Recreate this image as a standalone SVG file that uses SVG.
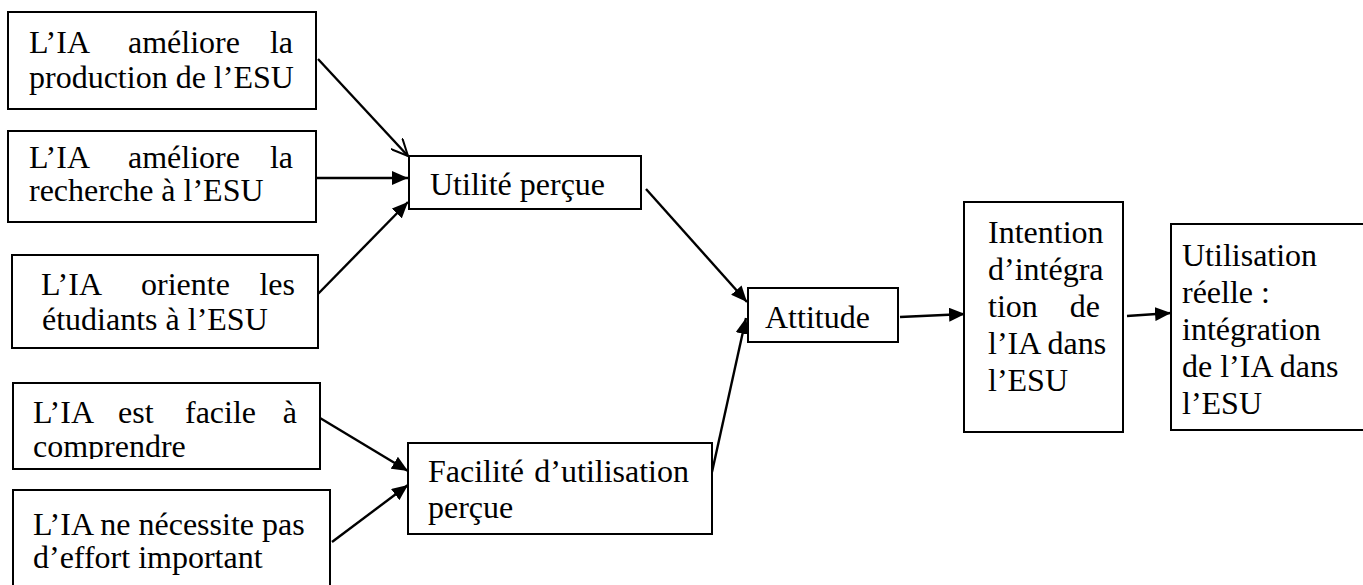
<svg xmlns="http://www.w3.org/2000/svg" width="1363" height="585" viewBox="0 0 1363 585">
<style>
.box{fill:#fff;stroke:#000;stroke-width:2}
text{font-family:"Liberation Serif","Times New Roman",serif;font-size:32px;fill:#000}
.e{text-anchor:end}
.c{fill:none;stroke:#000;stroke-width:2.4}
</style>
<defs>
<marker id="ah" viewBox="0 0 16 14" refX="16" refY="7" markerWidth="16" markerHeight="14" markerUnits="userSpaceOnUse" orient="auto">
<path d="M0,0 L16,7 L0,14 Z" fill="#000"/>
</marker>
<marker id="ao" viewBox="0 0 18 16" refX="17" refY="8" markerWidth="18" markerHeight="16" markerUnits="userSpaceOnUse" orient="auto">
<path d="M0,0 L17,8 L0,16" fill="none" stroke="#000" stroke-width="2"/>
</marker>
<clipPath id="clip4"><rect x="13" y="383" width="307" height="76"/></clipPath>
</defs>

<g id="connectors">
<line class="c" x1="318" y1="59" x2="408" y2="156" marker-end="url(#ao)"/>
<line class="c" x1="316" y1="178" x2="408" y2="178" marker-end="url(#ah)"/>
<line class="c" x1="315" y1="297" x2="408" y2="202" marker-end="url(#ah)"/>
<line class="c" x1="320" y1="418" x2="408" y2="471" marker-end="url(#ah)"/>
<line class="c" x1="332" y1="542" x2="408" y2="485" marker-end="url(#ah)"/>
<line class="c" x1="646" y1="189" x2="747" y2="302" marker-end="url(#ah)"/>
<line class="c" x1="712" y1="472" x2="746" y2="318" marker-end="url(#ah)"/>
<line class="c" x1="900" y1="317" x2="965" y2="314" marker-end="url(#ah)"/>
<line class="c" x1="1127" y1="316" x2="1171" y2="313" marker-end="url(#ah)"/>
</g>

<g id="n1">
<rect class="box" x="8" y="12" width="308" height="97"/>
<text x="29" y="53">L’IA</text><text x="128" y="53">améliore</text><text class="e" x="293" y="53">la</text>
<text x="29" y="88">production de l’ESU</text>
</g>
<g id="n2">
<rect class="box" x="8" y="131" width="308" height="91"/>
<text x="29" y="168">L’IA</text><text x="128" y="168">améliore</text><text class="e" x="293" y="168">la</text>
<text x="29" y="201">recherche à l’ESU</text>
</g>
<g id="n3">
<rect class="box" x="12" y="255" width="306" height="93"/>
<text x="41" y="295">L’IA</text><text x="141" y="295">oriente</text><text class="e" x="295" y="295">les</text>
<text x="42" y="330">étudiants à l’ESU</text>
</g>
<g id="n4">
<rect class="box" x="13" y="383" width="307" height="86"/>
<g clip-path="url(#clip4)">
<text x="33" y="423">L’IA</text><text x="118" y="423">est</text><text x="185" y="423">facile</text><text class="e" x="297" y="423">à</text>
<text x="33" y="457">comprendre</text>
</g>
</g>
<g id="n5">
<rect class="box" x="13" y="490" width="317" height="120"/>
<text x="33" y="535">L’IA ne nécessite pas</text>
<text x="33" y="568">d’effort important</text>
</g>
<g id="n6">
<rect class="box" x="409" y="156" width="232" height="53"/>
<text x="430" y="195">Utilité perçue</text>
</g>
<g id="n7">
<rect class="box" x="408" y="443" width="304" height="91"/>
<text x="428" y="482">Facilité</text><text class="e" x="689" y="482">d’utilisation</text>
<text x="428" y="518">perçue</text>
</g>
<g id="n8">
<rect class="box" x="748" y="288" width="150" height="54"/>
<text x="765" y="328">Attitude</text>
</g>
<g id="n9">
<rect class="box" x="964" y="202" width="159" height="230"/>
<text x="988" y="243">Intention</text>
<text x="988" y="280">d’intégra</text>
<text x="988" y="317">tion</text><text class="e" x="1100" y="317">de</text>
<text x="988" y="354">l’IA dans</text>
<text x="988" y="391">l’ESU</text>
</g>
<g id="n10">
<rect class="box" x="1171" y="224" width="200" height="206"/>
<text x="1182" y="266">Utilisation</text>
<text x="1182" y="303">réelle :</text>
<text x="1182" y="340">intégration</text>
<text x="1182" y="377">de l’IA dans</text>
<text x="1182" y="414">l’ESU</text>
</g>
</svg>
